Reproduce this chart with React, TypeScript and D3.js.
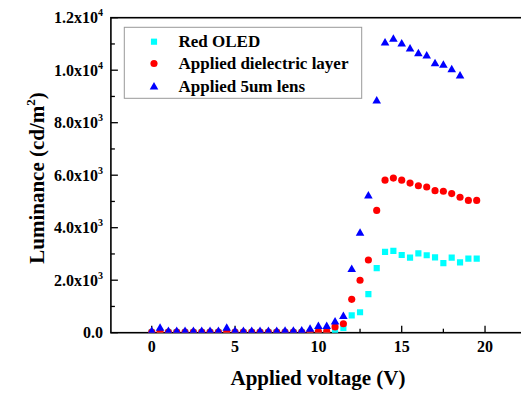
import React, { useRef, useEffect } from 'react';
import * as d3 from 'd3';

// applied voltage (V) for each measurement
const voltage = [
  0, 0.5, 1, 1.5, 2, 2.5, 3, 3.5, 4, 4.5, 5, 5.5, 6, 6.5, 7, 7.5, 8, 8.5, 9, 9.5,
  10, 10.5, 11, 11.5, 12, 12.5, 13, 13.5, 14, 14.5, 15, 15.5, 16, 16.5, 17, 17.5, 18, 18.5, 19, 19.5,
];

// luminance (cd/m2)
const redOled = [
  10, 15, 10, 10, 10, 10, 10, 10, 15, 10, 10, 10, 10, 10, 10, 10, 10, 10, 15, 20,
  25, 35, 70, 180, 660, 780, 1470, 2460, 3080, 3120, 2960, 2860, 3020, 2950, 2870, 2650, 2860, 2680, 2820, 2820,
];
const dielectric = [
  20, 20, 20, 20, 20, 20, 20, 20, 20, 20, 20, 20, 20, 20, 20, 20, 20, 20, 20, 20,
  40, 50, 220, 340, 1270, 2000, 2770, 4660, 5810, 5890, 5810, 5700, 5600, 5550, 5410, 5390, 5300, 5160, 5040, 5040,
];
const lens = [
  85, 210, 85, 85, 85, 85, 85, 85, 85, 210, 85, 85, 85, 85, 85, 85, 100, 100, 110, 170,
  280, 280, 445, 660, 2450, 3830, 5250, 8870, 11080, 11220, 11040, 10850, 10670, 10580, 10290, 10230, 10060, 9820,
];

const seriesNames = ['Red OLED', 'Applied dielectric layer', 'Applied 5um lens'];
const seriesColors = ['#00ffff', '#ff0000', '#0000ff'];

const xMajorTicks = [0, 5, 10, 15, 20];
const xMinorTicks = [2.5, 7.5, 12.5, 17.5];
const yMajorTicks = [0, 2000, 4000, 6000, 8000, 10000, 12000];
const yMinorTicks = [1000, 3000, 5000, 7000, 9000, 11000];
const yTickText = ['0.0', '2.0x10', '4.0x10', '6.0x10', '8.0x10', '1.0x10', '1.2x10'];
const yTickExp = ['', '3', '3', '3', '3', '4', '4'];

const FONT = '"Liberation Serif", "Times New Roman", serif';

const App = () => {
  const svgRef = useRef<SVGSVGElement | null>(null);

  useEffect(() => {
    const svg = d3.select(svgRef.current);
    svg.selectAll('*').remove();

    const x = d3.scaleLinear().domain([-2.45, 22.5]).range([110.9, 526.7]);
    const y = d3.scaleLinear().domain([0, 12000]).range([332.7, 17.7]);
    const [x0, x1] = x.range();
    const [yb, yt] = y.range();

    svg
      .append('defs')
      .append('clipPath')
      .attr('id', 'plot-clip')
      .append('rect')
      .attr('x', x0)
      .attr('y', yt - 10)
      .attr('width', x1 - x0)
      .attr('height', yb - yt + 10);

    // frame
    svg
      .append('rect')
      .attr('x', x0)
      .attr('y', yt)
      .attr('width', x1 - x0)
      .attr('height', yb - yt)
      .attr('fill', 'none')
      .attr('stroke', '#000')
      .attr('stroke-width', 1.6);

    // ticks pointing inward
    const ticks = svg.append('g').attr('stroke', '#000').attr('stroke-width', 1.3);
    ticks
      .selectAll('line.xmaj')
      .data(xMajorTicks)
      .enter()
      .append('line')
      .attr('x1', (d) => x(d))
      .attr('x2', (d) => x(d))
      .attr('y1', yb)
      .attr('y2', yb - 7);
    ticks
      .selectAll('line.xmin')
      .data(xMinorTicks)
      .enter()
      .append('line')
      .attr('x1', (d) => x(d))
      .attr('x2', (d) => x(d))
      .attr('y1', yb)
      .attr('y2', yb - 4);
    ticks
      .selectAll('line.ymaj')
      .data(yMajorTicks)
      .enter()
      .append('line')
      .attr('x1', x0)
      .attr('x2', x0 + 7)
      .attr('y1', (d) => y(d))
      .attr('y2', (d) => y(d));
    ticks
      .selectAll('line.ymin')
      .data(yMinorTicks)
      .enter()
      .append('line')
      .attr('x1', x0)
      .attr('x2', x0 + 4)
      .attr('y1', (d) => y(d))
      .attr('y2', (d) => y(d));

    // tick labels
    svg
      .append('g')
      .selectAll('text')
      .data(xMajorTicks)
      .enter()
      .append('text')
      .attr('x', (d) => x(d))
      .attr('y', yb + 19)
      .attr('text-anchor', 'middle')
      .attr('font-family', FONT)
      .attr('font-weight', 'bold')
      .attr('font-size', 16)
      .text((d) => d);

    const yl = svg
      .append('g')
      .selectAll('text')
      .data(yMajorTicks)
      .enter()
      .append('text')
      .attr('x', 103)
      .attr('y', (d) => y(d) + 5.5)
      .attr('text-anchor', 'end')
      .attr('font-family', FONT)
      .attr('font-weight', 'bold')
      .attr('font-size', 16);
    yl.append('tspan').text((d, i) => yTickText[i]);
    yl.append('tspan')
      .attr('dy', -7)
      .attr('font-size', 10)
      .text((d, i) => yTickExp[i]);

    // axis titles
    svg
      .append('text')
      .attr('x', 318)
      .attr('y', 385)
      .attr('text-anchor', 'middle')
      .attr('font-family', FONT)
      .attr('font-weight', 'bold')
      .attr('font-size', 21)
      .text('Applied voltage (V)');

    const yt2 = svg
      .append('text')
      .attr('transform', 'translate(43.5,178) rotate(-90)')
      .attr('text-anchor', 'middle')
      .attr('font-family', FONT)
      .attr('font-weight', 'bold')
      .attr('font-size', 21);
    yt2.append('tspan').text('Luminance (cd/m');
    yt2.append('tspan').attr('dy', -9).attr('font-size', 13).text('2');
    yt2.append('tspan').attr('dy', 9).text(')');

    // markers
    const marks = svg.append('g').attr('clip-path', 'url(#plot-clip)');
    const square = d3.symbol().type(d3.symbolSquare).size(38);
    const circle = d3.symbol().type(d3.symbolCircle).size(40);
    const tri = 'M0,-3.9L4.3,3.6L-4.3,3.6Z';

    marks
      .selectAll('path.sq')
      .data(redOled)
      .enter()
      .append('path')
      .attr('d', square())
      .attr('transform', (d, i) => `translate(${x(voltage[i])},${y(d)})`)
      .attr('fill', seriesColors[0]);
    marks
      .selectAll('path.ci')
      .data(dielectric)
      .enter()
      .append('path')
      .attr('d', circle())
      .attr('transform', (d, i) => `translate(${x(voltage[i])},${y(d)})`)
      .attr('fill', seriesColors[1]);
    marks
      .selectAll('path.tr')
      .data(lens)
      .enter()
      .append('path')
      .attr('d', tri)
      .attr('transform', (d, i) => `translate(${x(voltage[i])},${y(d)})`)
      .attr('fill', seriesColors[2]);

    // legend
    const lg = svg.append('g');
    lg.append('rect')
      .attr('x', 124.3)
      .attr('y', 27.3)
      .attr('width', 237.4)
      .attr('height', 71)
      .attr('fill', '#fff')
      .attr('stroke', '#999')
      .attr('stroke-width', 1);
    const rows = [41.7, 63.5, 86];
    const shapes = [square(), circle(), tri];
    seriesNames.forEach((name, i) => {
      lg.append('path')
        .attr('d', shapes[i])
        .attr('transform', `translate(154,${rows[i]})`)
        .attr('fill', seriesColors[i]);
      lg.append('text')
        .attr('x', 178.5)
        .attr('y', rows[i] + 5.5)
        .attr('font-family', FONT)
        .attr('font-weight', 'bold')
        .attr('font-size', 17)
        .text(name);
    });
  }, []);

  return (
    <div>
      <svg
        ref={svgRef}
        width={521}
        height={394}
        style={{ position: 'absolute', left: 0, top: 0, background: '#fff' }}
      ></svg>
    </div>
  );
};

export default App;
